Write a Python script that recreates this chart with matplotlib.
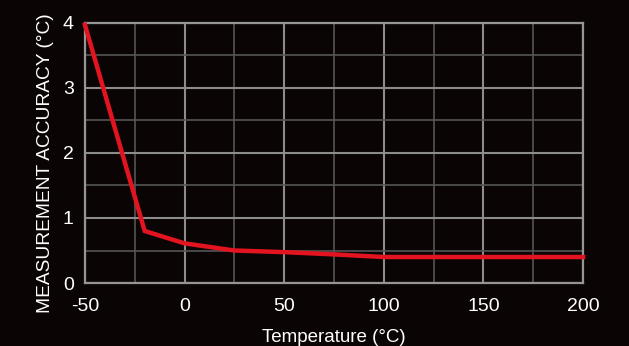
import matplotlib.pyplot as plt
from matplotlib.ticker import MultipleLocator

temps = [-50, -20, 0, 25, 50, 75, 100, 150, 200]
accuracy = [3.97, 0.80, 0.61, 0.50, 0.475, 0.44, 0.40, 0.40, 0.40]

bg = "#0b0405"
plt.rcParams['font.family'] = ['Liberation Sans', 'DejaVu Sans']
plt.rcParams['axes.unicode_minus'] = False

fig = plt.figure(figsize=(6.29, 3.46), dpi=100, facecolor=bg)
ax = fig.add_axes([0.135, 0.182, 0.792, 0.752])
ax.set_facecolor(bg)

ax.plot(temps, accuracy, color="#e3141f", lw=3.2, solid_joinstyle="miter", zorder=3, clip_on=False)

ax.set_xlim(-50, 200)
ax.set_ylim(0, 4)
ax.xaxis.set_major_locator(MultipleLocator(50))
ax.xaxis.set_minor_locator(MultipleLocator(25))
ax.yaxis.set_major_locator(MultipleLocator(1))
ax.yaxis.set_minor_locator(MultipleLocator(0.5))
ax.grid(which="major", color="#8c8c8c", lw=1.5)
ax.grid(which="minor", color="#555555", lw=1.2)
ax.tick_params(which="both", length=0, colors="white", labelsize=14)
ax.tick_params(axis="y", pad=8)
ax.tick_params(axis="x", pad=11)

for side in ax.spines:
    ax.spines[side].set_color("#959595")
    ax.spines[side].set_linewidth(1.6)

ax.set_xlabel("Temperature (°C)", color="white", fontsize=13.5, labelpad=10)
ax.set_ylabel("MEASUREMENT ACCURACY (°C)", color="white", fontsize=13.8, labelpad=6, y=0.46)

fig.savefig("out.png", dpi=100, facecolor=bg)
